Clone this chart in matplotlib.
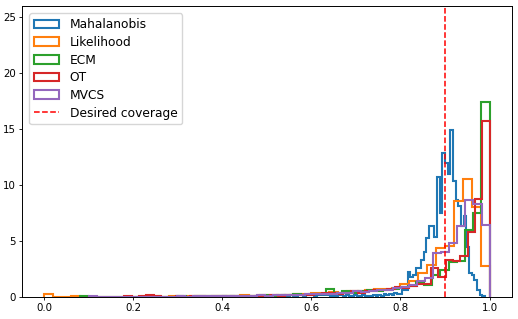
import matplotlib

matplotlib.use("Agg")
import matplotlib.pyplot as plt  # noqa: E402
import numpy as np  # noqa: E402

# coverage histograms (density), heights per bin
# Mahalanobis: 100 bins of width 0.006 on [0.39, 0.99]
maha_edges = np.linspace(0.39, 0.99, 101)
maha_heights = [
    0, 0, 0.1, 0, 0, 0.1, 0, 0, 0, 0.1, 0, 0.1, 0, 0, 0.1, 0.1, 0, 0.1, 0, 0.1,
    0.1, 0.1, 0, 0.1, 0.2, 0.1, 0.1, 0.2, 0.1, 0.1, 0.2, 0.2, 0.1, 0.2, 0.2, 0.2, 0.1, 0.2, 0.2, 0.2,
    0.2, 0.2, 0.1, 0.2, 0.1, 0.2, 0.2, 0.1, 0.2, 0.1, 0.1, 0.2, 0.1, 0.1, 0.2, 0.1, 0.1, 0.1, 0.2, 0.1,
    0.2, 0.1, 0.3, 0.2, 0.3, 0.2, 0.4, 0.3, 0.3, 0.6, 0.6, 2.2, 1.8, 2.0, 2.6, 2.6, 3.3, 4.0, 5.3, 6.3,
    6.3, 5.4, 10.7, 7.5, 12.9, 12.0, 11.0, 14.9, 10.4, 8.7, 8.1, 6.3, 7.2, 4.5, 2.1, 2.0, 1.5, 0.6, 0.2, 0.1,
]

# Likelihood: 50 bins on [0, 1]
lik_edges = np.linspace(0.0, 1.0, 51)
lik_heights = [
    0.25, 0, 0, 0.05, 0, 0.03, 0, 0, 0.03, 0,
    0.03, 0.05, 0.08, 0.03, 0.05, 0.03, 0.05, 0.08, 0.1, 0.08,
    0.1, 0.08, 0.15, 0.1, 0.15, 0.15, 0.2, 0.2, 0.25, 0.3,
    0.35, 0.3, 0.45, 0.4, 0.5, 0.55, 0.6, 0.75, 0.7, 0.8,
    1.2, 1.4, 2.1, 2.9, 4.4, 4.6, 8.6, 10.5, 8.0, 2.8,
]

# ECM: 50 bins on [0.08, 1]
ecm_edges = np.linspace(0.08, 1.0, 51)
ecm_heights = [
    0.05, 0.03, 0, 0, 0, 0, 0, 0.03, 0, 0.03,
    0, 0.03, 0.05, 0.03, 0.05, 0.05, 0.05, 0.1, 0.05, 0.1,
    0.1, 0.1, 0.15, 0.1, 0.15, 0.2, 0.25, 0.2, 0.3, 0.3,
    0.7, 0.4, 0.5, 0.4, 0.5, 0.6, 0.5, 0.6, 0.7, 0.9,
    1.0, 1.3, 1.1, 2.0, 2.4, 3.1, 3.2, 6.0, 7.5, 17.4,
]

# OT: 50 bins on [0.18, 1]
ot_edges = np.linspace(0.18, 1.0, 51)
ot_heights = [
    0.1, 0, 0.05, 0.2, 0.05, 0, 0.03, 0.05, 0.03, 0.05,
    0.05, 0.03, 0.05, 0.08, 0.05, 0.1, 0.08, 0.1, 0.1, 0.1,
    0.15, 0.1, 0.15, 0.15, 0.2, 0.2, 0.3, 0.35, 0.4, 0.3,
    0.4, 0.5, 0.4, 0.5, 0.6, 0.6, 0.7, 0.9, 0.8, 1.0,
    1.2, 1.2, 2.6, 1.8, 3.3, 3.2, 3.7, 5.8, 8.8, 15.7,
]

# MVCS: 50 bins on [0.1, 1]
mvcs_edges = np.linspace(0.1, 1.0, 51)
mvcs_heights = [
    0.05, 0.03, 0, 0, 0, 0.03, 0, 0, 0.03, 0,
    0.03, 0.05, 0.03, 0.05, 0.08, 0.05, 0.1, 0.08, 0.1, 0.08,
    0.1, 0.15, 0.1, 0.15, 0.15, 0.2, 0.2, 0.25, 0.25, 0.3,
    0.3, 0.35, 0.4, 0.5, 0.45, 0.5, 0.6, 0.6, 0.8, 0.9,
    1.1, 1.4, 1.7, 3.9, 4.0, 4.85, 6.3, 8.7, 8.3, 6.4,
]

series = [
    ("Mahalanobis", maha_edges, maha_heights),
    ("Likelihood", lik_edges, lik_heights),
    ("ECM", ecm_edges, ecm_heights),
    ("OT", ot_edges, ot_heights),
    ("MVCS", mvcs_edges, mvcs_heights),
]
DESIRED = 0.9


def main():
    fig = plt.figure(figsize=(5.18, 3.19), dpi=100)
    ax = fig.add_axes([0.0425, 0.069, 0.9455, 0.912])
    for name, edges, h in series:
        ax.hist(edges[:-1], bins=edges, weights=h, histtype="step", lw=1.5, label=name)
    ax.axvline(DESIRED, color="red", ls="--", lw=1.1, label="Desired coverage")
    ax.set_ylim(0, 26)
    ax.set_xticks([0.0, 0.2, 0.4, 0.6, 0.8, 1.0])
    ax.set_yticks([0, 5, 10, 15, 20, 25])
    ax.tick_params(labelsize=7.4, length=2.5, width=0.6, pad=2)
    for s in ax.spines.values():
        s.set_linewidth(0.7)
    ax.legend(loc="upper left", fontsize=8.8, labelspacing=0.38, handletextpad=0.9,
              borderaxespad=0.6)
    fig.savefig("out.png", dpi=100)
    plt.close(fig)


if __name__ == "__main__":
    main()
